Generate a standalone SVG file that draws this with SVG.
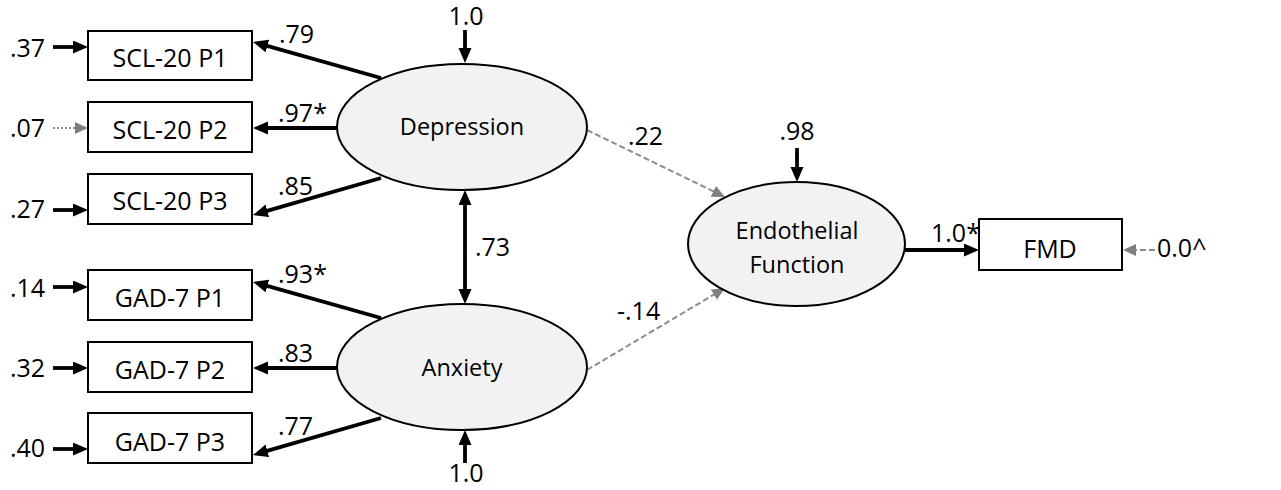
<svg xmlns="http://www.w3.org/2000/svg" width="1281" height="490" viewBox="0 0 1281 490">
<style>
text{font-family:"Open Sans","Liberation Sans",sans-serif;font-size:25px;fill:#000}
.mid{text-anchor:middle}
.sm{font-size:23.5px}
.box{fill:#fff;stroke:#000;stroke-width:2}
.lat{fill:#f2f2f2;stroke:#000;stroke-width:2}
.blk{stroke:#000;stroke-width:3.8;fill:none;marker-end:url(#ah)}
.gd{stroke:#8c8c8c;stroke-width:2;fill:none;stroke-dasharray:6 3;marker-end:url(#gh)}
.gdot{stroke:#8c8c8c;stroke-width:2;fill:none;stroke-dasharray:2 2;marker-end:url(#gh)}
</style>
<defs>
<marker id="ah" markerUnits="userSpaceOnUse" markerWidth="16" markerHeight="14" refX="3" refY="6.5" orient="auto-start-reverse" viewBox="0 0 16 14">
<path d="M0,0 L15,6.5 L0,13 z" fill="#000"/>
</marker>
<marker id="gh" markerUnits="userSpaceOnUse" markerWidth="14" markerHeight="13" refX="3" refY="6" orient="auto" viewBox="0 0 14 13">
<path d="M0,0 L13,6 L0,12 z" fill="#808080"/>
</marker>
</defs>

<g id="connectors">
<line class="blk" x1="53" y1="47" x2="76" y2="47"/>
<line class="gdot" x1="53" y1="128" x2="78" y2="128"/>
<line class="blk" x1="53" y1="210" x2="76" y2="210"/>
<line class="blk" x1="53" y1="287" x2="76" y2="287"/>
<line class="blk" x1="53" y1="368" x2="76" y2="368"/>
<line class="blk" x1="53" y1="449" x2="76" y2="449"/>
<line class="blk" x1="381" y1="78" x2="264.5" y2="45.2"/>
<line class="blk" x1="338" y1="128" x2="265" y2="128"/>
<line class="blk" x1="381" y1="178" x2="264.5" y2="211.7"/>
<line class="blk" x1="381" y1="318" x2="264.5" y2="285.2"/>
<line class="blk" x1="338" y1="368" x2="265" y2="368"/>
<line class="blk" x1="381" y1="418" x2="264.5" y2="451.7"/>
<line class="blk" x1="465" y1="30" x2="465" y2="51"/>
<line class="blk" x1="465" y1="463" x2="465" y2="442"/>
<line class="blk" x1="797" y1="148" x2="797" y2="170"/>
<line class="blk" x1="465" y1="202" x2="465" y2="292" style="marker-start:url(#ah)"/>
<line class="gd" x1="587" y1="130" x2="716" y2="192.6"/>
<line class="gd" x1="587" y1="370" x2="716.4" y2="293.1"/>
<line class="blk" x1="905" y1="250" x2="967" y2="250"/>
<line class="gd" x1="1155" y1="250" x2="1133" y2="250"/>
</g>

<g id="labels">
<text x="10" y="57">.37</text>
<text x="10" y="137">.07</text>
<text x="10" y="218">.27</text>
<text x="10" y="297">.14</text>
<text x="10" y="377">.32</text>
<text x="10" y="457">.40</text>
<text x="279" y="43">.79</text>
<text x="278" y="122">.97*</text>
<text x="278" y="195">.85</text>
<text x="278" y="283">.93*</text>
<text x="278" y="362">.83</text>
<text x="278" y="435">.77</text>
<text class="mid" x="466" y="25">1.0</text>
<text class="mid" x="466" y="482">1.0</text>
<text x="475" y="256">.73</text>
<text x="628" y="145">.22</text>
<text x="617" y="320">-.14</text>
<text class="mid" x="797" y="140">.98</text>
<text x="931" y="242">1.0*</text>
<text x="1157" y="257">0.0^</text>
</g>

<g id="scl1"><rect class="box" x="88" y="31" width="164" height="49"/><text class="mid" x="170" y="67">SCL-20 P1</text></g>
<g id="scl2"><rect class="box" x="88" y="102" width="164" height="50"/><text class="mid" x="170" y="139">SCL-20 P2</text></g>
<g id="scl3"><rect class="box" x="88" y="174" width="164" height="50"/><text class="mid" x="170" y="210">SCL-20 P3</text></g>
<g id="gad1"><rect class="box" x="88" y="270" width="164" height="50"/><text class="mid" x="170" y="307">GAD-7 P1</text></g>
<g id="gad2"><rect class="box" x="88" y="342" width="164" height="50"/><text class="mid" x="170" y="379">GAD-7 P2</text></g>
<g id="gad3"><rect class="box" x="88" y="413" width="164" height="50"/><text class="mid" x="170" y="451">GAD-7 P3</text></g>

<g id="depression"><ellipse class="lat" cx="462" cy="127" rx="125" ry="63"/><text class="mid sm" x="462" y="135">Depression</text></g>
<g id="anxiety"><ellipse class="lat" cx="462" cy="367" rx="125" ry="63"/><text class="mid sm" x="462" y="376">Anxiety</text></g>
<g id="endothelial"><ellipse class="lat" cx="796.5" cy="244" rx="108.5" ry="62"/><text class="mid sm" x="797" y="239">Endothelial</text><text class="mid sm" x="797" y="273">Function</text></g>
<g id="fmd"><rect class="box" x="979" y="219" width="143" height="51"/><text class="mid" x="1050" y="258">FMD</text></g>
</svg>
